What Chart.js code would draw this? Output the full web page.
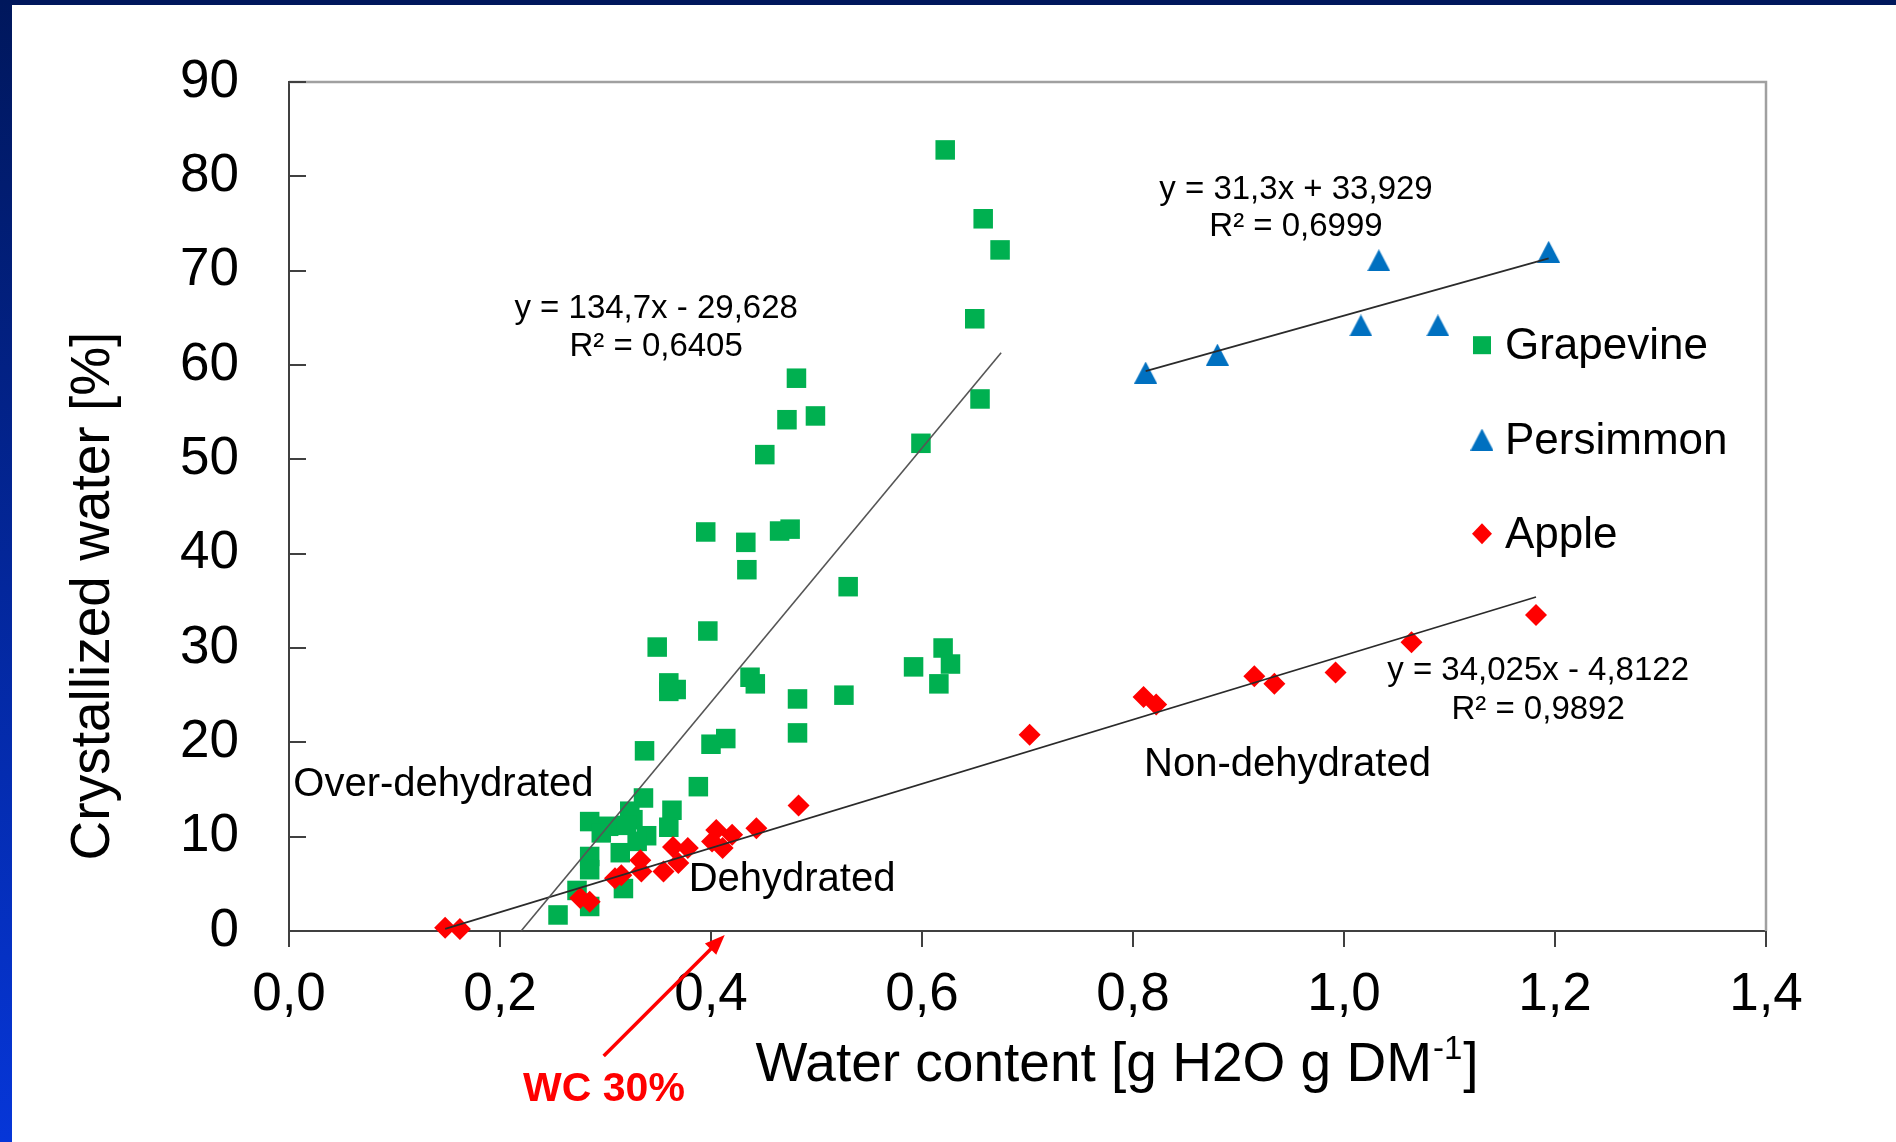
<!DOCTYPE html>
<html><head><meta charset="utf-8">
<script src="https://cdn.jsdelivr.net/npm/chart.js@4"></script>
<style>
html,body{margin:0;padding:0;background:#fff;}
#wrap{position:relative;width:1896px;height:1142px;overflow:hidden;background:#fff;}
#c{position:absolute;left:0;top:0;}
#topbar{position:absolute;left:0;top:0;width:1896px;height:5px;background:#00175c;}
#leftbar{position:absolute;left:0;top:0;width:12px;height:1142px;background:linear-gradient(#00175c,#0636d8);}
</style></head>
<body><div id="wrap"><canvas id="c" width="1896" height="1142"></canvas><div id="topbar"></div><div id="leftbar"></div></div>
<script>
// ---- data ----
const grapeX = [0.622,0.658,0.674,0.650,0.655,0.599,0.481,0.499,0.472,0.451,0.465,0.475,0.395,0.433,0.434,0.530,0.349,0.397,0.360,0.367,0.360,0.437,0.442,0.620,0.627,0.592,0.616,0.526,0.482,0.482,0.400,0.414,0.337,0.388,0.336,0.363,0.323,0.326,0.285,0.303,0.320,0.360,0.339,0.296,0.314,0.330,0.285,0.285,0.273,0.317,0.285,0.255];
const grapeY = [82.8,75.5,72.2,64.9,56.4,51.7,58.6,54.6,54.2,50.5,42.4,42.6,42.3,41.2,38.3,36.5,30.1,31.8,26.3,25.6,25.4,26.9,26.2,30.0,28.3,28.0,26.2,25.0,24.6,21.0,19.8,20.4,19.1,15.3,14.1,12.8,12.7,11.8,11.6,11.1,11.2,11.0,10.1,10.4,8.3,9.5,7.9,6.5,4.3,4.5,2.6,1.7];
const persX = [0.812,0.880,1.016,1.089,1.033,1.194];
const persY = [59.2,61.1,64.2,64.2,71.1,72.0];
const appleX = [0.148,0.162,0.276,0.285,0.309,0.315,0.333,0.334,0.355,0.364,0.369,0.378,0.401,0.405,0.411,0.420,0.443,0.483,0.702,0.810,0.822,0.915,0.934,0.992,1.064,1.182];
const appleY = [0.35,0.2,3.5,3.1,5.6,5.9,7.5,6.3,6.3,8.9,7.2,8.8,9.5,10.7,8.8,10.2,10.9,13.3,20.8,24.8,24.0,27.0,26.2,27.4,30.6,33.5];
// linear trendlines [slope, intercept] and x-extent
const grapeFit = [134.7, -29.628];  const grapeTrendX = [0.22, 0.675];
const persFit  = [31.3, 33.929];    const persTrendX  = [0.812, 1.194];
const appleFit = [34.025, -4.8122]; const appleTrendX = [0.148, 1.182];
const seriesNames = ['Grapevine','Persimmon','Apple'];
const eqTexts = [['y = 134,7x - 29,628','R² = 0,6405'],['y = 31,3x + 33,929','R² = 0,6999'],['y = 34,025x - 4,8122','R² = 0,9892']];
const regionLabels = ['Over-dehydrated','Dehydrated','Non-dehydrated'];
const xTickLabels = ['0,0','0,2','0,4','0,6','0,8','1,0','1,2','1,4'];
const yTickLabels = ['0','10','20','30','40','50','60','70','80','90'];
const xTitle = ['Water content [g H2O g DM','-1',']'];
const yTitle = 'Crystallized water [%]';
const wcLabel = 'WC 30%';
const wcValue = 0.413;

const FONT = '"Liberation Sans", Arial, Helvetica, sans-serif';
const GREEN = '#00b050', BLUE = '#0070c0', RED = '#ff0000';

function pts(xs, ys){ return xs.map((x,i)=>({x:x, y:ys[i]})); }
function trend(fit, ext){ return ext.map(x=>({x:x, y:fit[0]*x+fit[1]})); }
function triCanvas(w,h,color){
  const c=document.createElement('canvas'); c.width=w; c.height=h;
  const g=c.getContext('2d'); g.fillStyle=color; g.beginPath();
  g.moveTo(w/2,0); g.lineTo(w,h); g.lineTo(0,h); g.closePath(); g.fill(); return c;
}
const tri = triCanvas(23,22,BLUE);

const overlay = {
  id:'overlay',
  afterDraw(chart){
    const ctx = chart.ctx, ca = chart.chartArea, xs = chart.scales.x, ys = chart.scales.y;
    const X = v=>xs.getPixelForValue(v), Y = v=>ys.getPixelForValue(v);
    ctx.save();
    // top & right frame of plot area
    ctx.strokeStyle = '#a0a0a0'; ctx.lineWidth = 2.5;
    ctx.beginPath(); ctx.moveTo(ca.left, ca.top); ctx.lineTo(ca.right, ca.top); ctx.lineTo(ca.right, ca.bottom); ctx.stroke();
    // inward y tick marks
    ctx.strokeStyle = '#404040'; ctx.lineWidth = 2;
    ys.ticks.forEach(t=>{ const y = Math.round(Y(t.value)); ctx.beginPath(); ctx.moveTo(ca.left, y); ctx.lineTo(ca.left+17, y); ctx.stroke(); });
    // equations
    ctx.fillStyle = '#000'; ctx.textAlign = 'center'; ctx.textBaseline = 'middle';
    ctx.font = '33px ' + FONT;
    const eqPos = [[0.348, 65.9, 61.9],[0.9545, 78.6, 74.6],[1.184, 27.6, 23.4]];
    eqTexts.forEach((e,i)=>{ const p = eqPos[i]; ctx.fillText(e[0], X(p[0]), Y(p[1])); ctx.fillText(e[1], X(p[0]), Y(p[2])); });
    // region labels
    ctx.font = '40px ' + FONT;
    const regPos = [[0.1464, 15.5],[0.4768, 5.4],[0.9464, 17.6]];
    regionLabels.forEach((t,i)=>ctx.fillText(t, X(regPos[i][0]), Y(regPos[i][1])));
    // legend
    ctx.textAlign = 'left'; ctx.font = '44px ' + FONT;
    const legY = [62.1, 52.1, 42.1], mx = X(1.1308), tx = X(1.1526);
    legY.forEach((v,i)=>{
      const y = Y(v);
      if (i===0){ ctx.fillStyle = GREEN; ctx.fillRect(mx-9, y-9, 18, 18); }
      if (i===1){ ctx.drawImage(tri, mx-11.5, y-11); }
      if (i===2){ ctx.fillStyle = RED; ctx.beginPath(); ctx.moveTo(mx, y-10.5); ctx.lineTo(mx+10, y); ctx.lineTo(mx, y+10.5); ctx.lineTo(mx-10, y); ctx.closePath(); ctx.fill(); }
      ctx.fillStyle = '#000'; ctx.fillText(seriesNames[i], tx, y+2);
    });
    // axis titles
    ctx.fillStyle = '#000';
    ctx.save(); ctx.translate(94, 596); ctx.rotate(-Math.PI/2);
    ctx.textAlign = 'center'; ctx.font = '55px ' + FONT; ctx.fillText(yTitle, 0, 0); ctx.restore();
    ctx.font = '55px ' + FONT; const w0 = ctx.measureText(xTitle[0]).width, w2 = ctx.measureText(xTitle[2]).width;
    ctx.font = '33px ' + FONT; const w1 = ctx.measureText(xTitle[1]).width;
    let sx = 1116 - (w0 + w1 + w2)/2, by = 1066;
    ctx.textAlign = 'left';
    ctx.font = '55px ' + FONT; ctx.fillText(xTitle[0], sx, by);
    ctx.font = '33px ' + FONT; ctx.fillText(xTitle[1], sx + w0 + 1, by - 16);
    ctx.font = '55px ' + FONT; ctx.fillText(xTitle[2], sx + w0 + w1 + 2, by);
    // WC 30% arrow
    const hx = X(wcValue), hy = ca.bottom + 4, tx0 = hx - 121, ty0 = hy + 121;
    ctx.strokeStyle = RED; ctx.fillStyle = RED; ctx.lineWidth = 3.5;
    const ang = Math.atan2(hy - ty0, hx - tx0);
    ctx.beginPath(); ctx.moveTo(tx0, ty0); ctx.lineTo(hx - 14*Math.cos(ang), hy - 14*Math.sin(ang)); ctx.stroke();
    ctx.beginPath(); ctx.moveTo(hx, hy);
    ctx.lineTo(hx - 20*Math.cos(ang) + 8*Math.sin(ang), hy - 20*Math.sin(ang) - 8*Math.cos(ang));
    ctx.lineTo(hx - 20*Math.cos(ang) - 8*Math.sin(ang), hy - 20*Math.sin(ang) + 8*Math.cos(ang));
    ctx.closePath(); ctx.fill();
    ctx.font = 'bold 41px ' + FONT; ctx.textAlign = 'center'; ctx.textBaseline = 'middle';
    ctx.fillText(wcLabel, 604, 1090);
    ctx.restore();
  }
};

new Chart(document.getElementById('c'), {
  type: 'scatter',
  data: { datasets: [
    { label:'Grapevine trend', data: trend(grapeFit, grapeTrendX), showLine:true, pointRadius:0, borderColor:'#555', borderWidth:1.6, order:0, clip:false },
    { label:'Persimmon trend', data: trend(persFit, persTrendX), showLine:true, pointRadius:0, borderColor:'#2a2a2a', borderWidth:1.7, order:0, clip:false },
    { label:'Apple trend', data: trend(appleFit, appleTrendX), showLine:true, pointRadius:0, borderColor:'#2a2a2a', borderWidth:1.7, order:0, clip:false },
    { label: seriesNames[2], data: pts(appleX, appleY), pointStyle:'rectRot', pointRadius:11, pointBackgroundColor:RED, pointBorderWidth:0, order:1, clip:false },
    { label: seriesNames[1], data: pts(persX, persY), pointStyle:tri, pointRadius:12, pointBackgroundColor:BLUE, pointBorderWidth:0, order:2, clip:false },
    { label: seriesNames[0], data: pts(grapeX, grapeY), pointStyle:'rect', pointRadius:13.8, pointBackgroundColor:GREEN, pointBorderWidth:0, order:3, clip:false }
  ]},
  options: {
    responsive:false, animation:false, devicePixelRatio:1, events:[],
    layout:{ padding:{ top:82, right:130, left:0, bottom:0 } },
    plugins:{ legend:{display:false}, tooltip:{enabled:false} },
    scales:{
      x:{ type:'linear', min:0, max:1.4,
          afterFit:(s)=>{ s.height = 211; },
          ticks:{ stepSize:0.2, autoSkip:false, maxRotation:0, padding:17, color:'#000', font:{family:FONT, size:53},
                  callback:(v)=>xTickLabels[Math.round(v/0.2)] },
          grid:{ drawOnChartArea:false, drawTicks:true, tickLength:16, color:'#404040', lineWidth:2 },
          border:{ display:true, color:'#404040', width:2 } },
      y:{ type:'linear', min:0, max:90,
          afterFit:(s)=>{ s.width = 289; },
          ticks:{ stepSize:10, autoSkip:false, padding:50, color:'#000', font:{family:FONT, size:53},
                  callback:(v)=>yTickLabels[Math.round(v/10)] },
          grid:{ drawOnChartArea:false, drawTicks:false },
          border:{ display:true, color:'#404040', width:2 } }
    }
  },
  plugins:[overlay]
});
</script>
</body></html>
